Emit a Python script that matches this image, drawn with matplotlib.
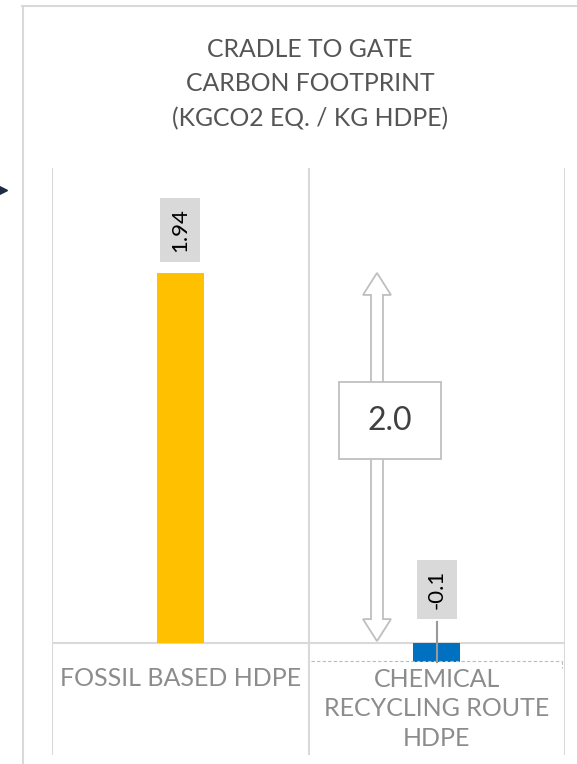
import numpy as np
import matplotlib.pyplot as plt
import matplotlib.patches as mpatches

# data
categories = ["FOSSIL BASED HDPE", "CHEMICAL\nRECYCLING ROUTE\nHDPE"]
values = [1.94, -0.1]
value_labels = ["1.94", "-0.1"]
colors = ["#FFC000", "#0070C0"]
difference_label = "2.0"
title = "CRADLE TO GATE\nCARBON FOOTPRINT\n(KGCO2 EQ. / KG HDPE)"

plt.rcParams['font.family'] = ['Lato', 'DejaVu Sans']
grid_col = "#d9d9d9"

fig = plt.figure(figsize=(5.77, 7.64), dpi=100)

# outer frame of the slide panel
fig.add_artist(plt.Line2D([22/577, 1], [1 - 6/764, 1 - 6/764], color=grid_col, lw=1.5))
fig.add_artist(plt.Line2D([23/577, 23/577], [0, 1 - 6/764], color=grid_col, lw=1.5))
# little arrow cut at left edge
fig.add_artist(plt.Line2D([2/577], [1 - 190/764], marker='>', color="#1F2A44", ms=7))

fig.text(310/577, 1 - 84/764, title, ha='center', va='center', fontsize=17.8,
         color="#555555", linespacing=1.6)

ax = fig.add_axes([52/577, 9/764, 513/577, 587/764])
x = np.arange(len(categories))
ax.bar(x, values, width=0.183, color=colors, zorder=3)
ax.set_xlim(-0.5, 1.5)
ax.set_ylim(-0.587, 2.49)
ax.axis('off')

ax.axhline(0, color=grid_col, lw=1.5, zorder=2)
for xv in [-0.5, 0.5, 1.5]:
    ax.axvline(xv, color=grid_col, lw=1.5, zorder=1)

# category labels
ax.text(0, -0.125, categories[0], ha='center', va='top', fontsize=18, color="#8c8c8c")
ax.text(1, -0.13, categories[1], ha='center', va='top', fontsize=18, color="#8c8c8c",
        linespacing=1.34)
# dashed outline of text box
ax.plot([0.51, 1.49], [-0.096, -0.096], ls=(0, (3, 2)), color="#bbbbbb", lw=0.8, zorder=4)
ax.plot([1.49, 1.49], [-0.096, -0.13], ls=(0, (3, 2)), color="#bbbbbb", lw=0.8, zorder=4)

# value labels
ax.text(0, values[0] + 0.226, value_labels[0], rotation=90, ha='center', va='center',
        fontsize=16, color="black", zorder=5,
        bbox=dict(boxstyle='square,pad=0.45', fc=grid_col, ec='none'))
ax.text(1, values[1] + 0.38, value_labels[1], rotation=90, ha='center', va='center',
        fontsize=16, color="black", zorder=5,
        bbox=dict(boxstyle='square,pad=0.45', fc=grid_col, ec='none'))
ax.plot([1, 1], [values[1], 0.11], color="#999999", lw=1.5, zorder=4)

# difference arrow (hollow double arrow)
ax_x = 0.767
sw = 6/256.5
hw = 14/256.5
hl = 22/190.7
top, bot = values[0], 0.01
pts = [(ax_x, top), (ax_x + hw, top - hl), (ax_x + sw, top - hl), (ax_x + sw, bot + hl),
       (ax_x + hw, bot + hl), (ax_x, bot), (ax_x - hw, bot + hl), (ax_x - sw, bot + hl),
       (ax_x - sw, top - hl), (ax_x - hw, top - hl)]
ax.add_patch(mpatches.Polygon(pts, closed=True, fc='white', ec="#bfbfbf", lw=1.3, zorder=3))

bw, bh = 102/256.5, 77/190.7
cx, cy = 0.818, 1.164
ax.add_patch(mpatches.Rectangle((cx - bw/2, cy - bh/2), bw, bh, fc='white', ec="#bfbfbf",
                                lw=1.3, zorder=4))
ax.text(cx, cy, difference_label, ha='center', va='center', fontsize=23, color="#404040",
        zorder=5)

fig.savefig("out.png", dpi=100)
